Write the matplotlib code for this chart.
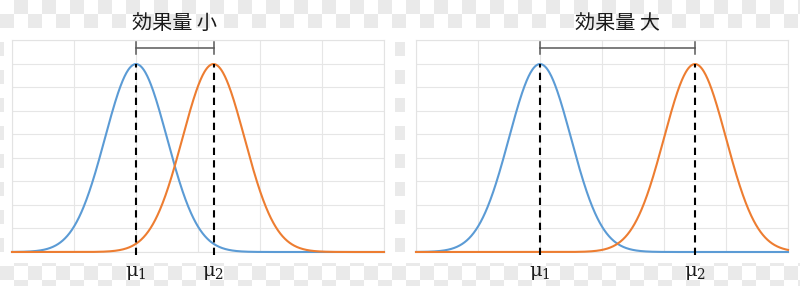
import numpy as np
import matplotlib
matplotlib.use("Agg")
import matplotlib.pyplot as plt
from matplotlib.patches import Rectangle
import matplotlib.transforms as mtransforms

# ---- data ----
panel_titles = ["効果量 小", "効果量 大"]
mu1_values = [0.0, 0.0]
mu2_values = [2.5, 5.0]
sigma = 1.0
x_range = [-4.0, 8.0]
y_range = [0.0, 0.45]
x_grid = [-4, -2, 0, 2, 4, 6, 8]
y_grid = [0, 0.05, 0.10, 0.15, 0.20, 0.25, 0.30, 0.35, 0.40, 0.45]
mu_labels = [r"$\mathrm{μ}_1$", r"$\mathrm{μ}_2$"]

BLUE = "#5B9BD5"
ORANGE = "#ED7D31"

plt.rcParams['font.family'] = ['Noto Sans CJK JP', 'DejaVu Sans']
plt.rcParams['mathtext.fontset'] = 'dejavuserif'

W, H = 800, 286
fig = plt.figure(figsize=(W / 100, H / 100), dpi=100)

# checkerboard background (transparency pattern)
bg = fig.add_axes([0, 0, 1, 1], zorder=-10)
bg.set_xlim(0, W)
bg.set_ylim(H, 0)
bg.axis('off')
cell = 14
for r in range(int(np.ceil(H / cell))):
    for c in range(int(np.ceil(W / cell))):
        if (r + c) % 2 == 1:
            bg.add_patch(Rectangle((c * cell, r * cell), cell, cell,
                                   facecolor='#eaeaea', edgecolor='none', zorder=1))
# white chart areas
bg.add_patch(Rectangle((4, 28), 391, 235, facecolor='white', edgecolor='none', zorder=2))
bg.add_patch(Rectangle((405, 28), 395, 235, facecolor='white', edgecolor='none', zorder=2))

ax_rects = [
    [12 / W, (H - 252) / H, 372 / W, 212 / H],
    [416 / W, (H - 252) / H, 372 / W, 212 / H],
]

def pdf(x, m, s):
    return np.exp(-0.5 * ((x - m) / s) ** 2) / (s * np.sqrt(2 * np.pi))

xs = np.linspace(x_range[0], x_range[1], 801)

for i in range(2):
    ax = fig.add_axes(ax_rects[i])
    ax.set_facecolor('none')
    m1, m2 = mu1_values[i], mu2_values[i]
    ax.set_xlim(*x_range)
    ax.set_ylim(*y_range)
    ax.set_xticks(x_grid)
    ax.set_yticks(y_grid)
    ax.tick_params(length=0, labelbottom=False, labelleft=False)
    ax.grid(True, color='#e6e6e6', lw=0.8, zorder=0)
    for sp in ax.spines.values():
        sp.set_color('#e3e3e3')
        sp.set_linewidth(0.8)
    ax.set_axisbelow(True)

    ax.plot(xs, pdf(xs, m1, sigma), color=BLUE, lw=1.5, zorder=3, clip_on=False)
    ax.plot(xs, pdf(xs, m2, sigma), color=ORANGE, lw=1.5, zorder=3, clip_on=False)

    peak = pdf(m1, m1, sigma)
    for m in (m1, m2):
        ax.plot([m, m], [-0.007, peak], color='black', lw=1.5, ls=(0, (3.5, 2.5)),
                zorder=4, clip_on=False)

    # bracket between means
    yb, yt0, yt1 = 0.433, 0.421, 0.446
    ax.plot([m1, m2], [yb, yb], color='#595959', lw=1.1, zorder=4)
    ax.plot([m1, m1], [yt0, yt1], color='#595959', lw=1.1, zorder=4)
    ax.plot([m2, m2], [yt0, yt1], color='#595959', lw=1.1, zorder=4)

    trans = mtransforms.blended_transform_factory(ax.transData, ax.transAxes)
    ax.text((m1 + m2) / 2, 1.08, panel_titles[i], transform=trans, ha='center',
            va='center', fontsize=14.5, color='#1a1a1a')
    for m, lab in zip((m1, m2), mu_labels):
        ax.text(m, -0.09, lab, transform=trans, ha='center', va='center',
                fontsize=14, color='#1a1a1a')

fig.savefig("out.png", dpi=100)
